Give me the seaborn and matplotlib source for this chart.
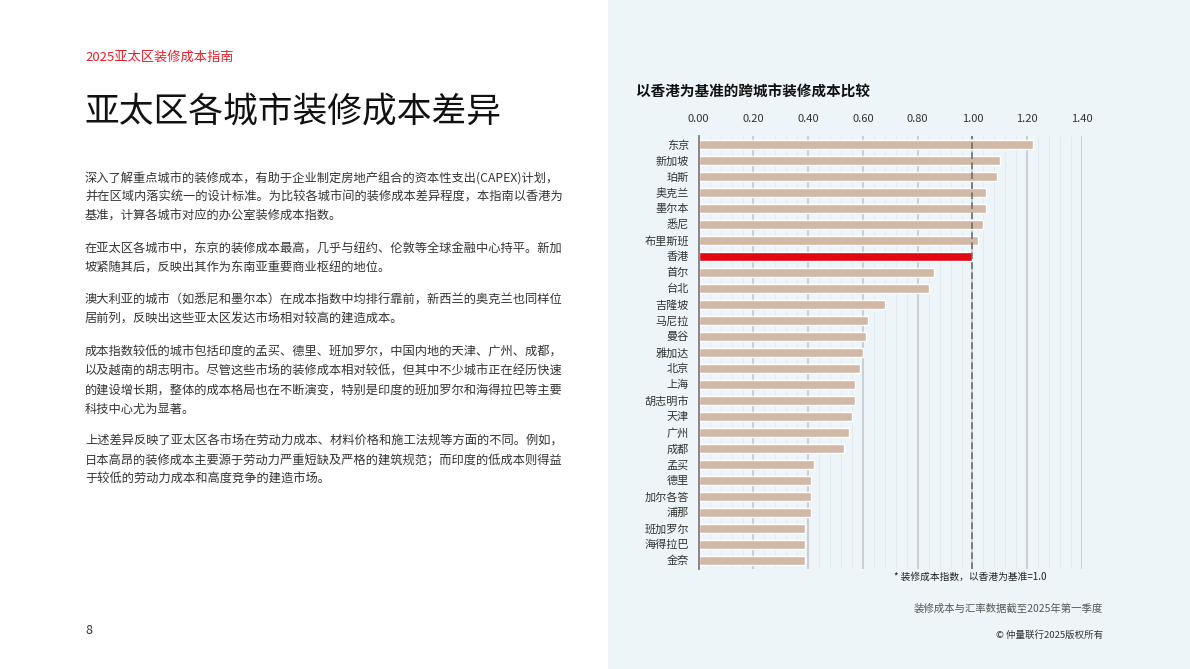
import matplotlib
matplotlib.use("Agg")
import matplotlib.pyplot as plt
import seaborn as sns
import pandas as pd
from matplotlib.patches import Rectangle
from matplotlib.ticker import MultipleLocator

# Data (Hong Kong = 1.00)
cities = ["东京", "新加坡", "珀斯", "奥克兰", "墨尔本", "悉尼", "布里斯班", "香港",
          "首尔", "台北", "吉隆坡", "马尼拉", "曼谷", "雅加达", "北京", "上海",
          "胡志明市", "天津", "广州", "成都", "孟买", "德里", "加尔各答", "浦那",
          "班加罗尔", "海得拉巴", "金奈"]
cost_index = [1.22, 1.10, 1.09, 1.05, 1.05, 1.04, 1.02, 1.00,
              0.86, 0.84, 0.68, 0.62, 0.61, 0.60, 0.59, 0.57,
              0.57, 0.56, 0.55, 0.53, 0.42, 0.41, 0.41, 0.41,
              0.39, 0.39, 0.39]
x_ticks = [0.0, 0.2, 0.4, 0.6, 0.8, 1.0, 1.2, 1.4]

paragraphs = [
    ["深入了解重点城市的装修成本，有助于企业制定房地产组合的资本性支出(CAPEX)计划，",
     "并在区域内落实统一的设计标准。为比较各城市间的装修成本差异程度，本指南以香港为",
     "基准，计算各城市对应的办公室装修成本指数。"],
    ["在亚太区各城市中，东京的装修成本最高，几乎与纽约、伦敦等全球金融中心持平。新加",
     "坡紧随其后，反映出其作为东南亚重要商业枢纽的地位。"],
    ["澳大利亚的城市（如悉尼和墨尔本）在成本指数中均排行靠前，新西兰的奥克兰也同样位",
     "居前列，反映出这些亚太区发达市场相对较高的建造成本。"],
    ["成本指数较低的城市包括印度的孟买、德里、班加罗尔，中国内地的天津、广州、成都，",
     "以及越南的胡志明市。尽管这些市场的装修成本相对较低，但其中不少城市正在经历快速",
     "的建设增长期，整体的成本格局也在不断演变，特别是印度的班加罗尔和海得拉巴等主要",
     "科技中心尤为显著。"],
    ["上述差异反映了亚太区各市场在劳动力成本、材料价格和施工法规等方面的不同。例如，",
     "日本高昂的装修成本主要源于劳动力严重短缺及严格的建筑规范；而印度的低成本则得益",
     "于较低的劳动力成本和高度竞争的建造市场。"],
]

sns.set_theme(style="white")
plt.rcParams["font.family"] = ["Noto Sans CJK SC", "DejaVu Sans"]

W, H = 1190, 669
fig = plt.figure(figsize=(W / 100, H / 100), dpi=100)
fig.patch.set_facecolor("white")


def px(x, y):
    return x / W, 1 - y / H


# light blue panel on the right
fig.patches.append(Rectangle((608 / W, 0), 1 - 608 / W, 1, transform=fig.transFigure,
                             facecolor="#EDF5F8", edgecolor="none", zorder=-10))

# left page text
fig.text(*px(85, 57), "2025亚太区装修成本指南", color="#E8202A", fontsize=9.5, va="center")
fig.text(*px(84, 112), "亚太区各城市装修成本差异", color="#111111", fontsize=25,
         va="center", fontweight="light")

y = 178.5
for para in paragraphs:
    for line in para:
        fig.text(*px(85, y), line, color="#333333", fontsize=8.8, va="center")
        y += 19
    y += 13.5
fig.text(*px(85, 631), "8", color="#333333", fontsize=9, va="center")

# chart
x0, x1 = 698.7, 1082
y_top, y_bot = 136, 568.5
ax = fig.add_axes([x0 / W, 1 - y_bot / H, (x1 - x0) / W, (y_bot - y_top) / H])
ax.set_facecolor("none")
ax.set_zorder(5)

df = pd.DataFrame({"city": cities, "index": cost_index})
colors = {c: ("#E30613" if c == "香港" else "#D2B8A6") for c in cities}
sns.barplot(data=df, x="index", y="city", hue="city", palette=colors, legend=False,
            width=0.55, ax=ax, zorder=3, saturation=1)

ax.set_xlim(0, 1.4)
ax.set_ylim(len(cities) - 0.48, -0.52)
ax.xaxis.set_major_locator(MultipleLocator(0.2))
ax.xaxis.set_minor_locator(MultipleLocator(0.04))
ax.set_xticks(x_ticks)
ax.set_xticklabels([f"{t:.2f}" for t in x_ticks])
ax.xaxis.tick_top()
ax.tick_params(axis="x", which="both", length=0, pad=9, labelsize=8, labelcolor="#333333")
ax.tick_params(axis="y", length=0, pad=7, labelsize=8, labelcolor="#333333")
ax.set_xlabel("")
ax.set_ylabel("")

ax.grid(axis="x", which="minor", color="#E0E8EB", lw=0.6, zorder=0)
ax.grid(axis="x", which="major", color="#C6CCCF", lw=1.3, zorder=1)
for s in ["top", "right", "bottom"]:
    ax.spines[s].set_visible(False)
ax.spines["left"].set_color("#7A7F82")
ax.spines["left"].set_linewidth(1.3)
ax.spines["left"].set_zorder(5)
ax.axvline(1.0, color="#6E6E6E", lw=1.2, ls=(0, (4, 2)), zorder=4)

fig.text(*px(636, 92), "以香港为基准的跨城市装修成本比较", color="#111111", fontsize=10.5,
         fontweight="bold", va="center")
fig.text(*px(894, 577), "* 装修成本指数，以香港为基准=1.0", color="#222222", fontsize=7,
         va="center")
fig.text(*px(1103, 609), "装修成本与汇率数据截至2025年第一季度", color="#555555", fontsize=7.5,
         va="center", ha="right")
fig.text(*px(1103, 635), "© 仲量联行2025版权所有", color="#333333", fontsize=6.8,
         va="center", ha="right")

fig.savefig("out.png", dpi=100)
